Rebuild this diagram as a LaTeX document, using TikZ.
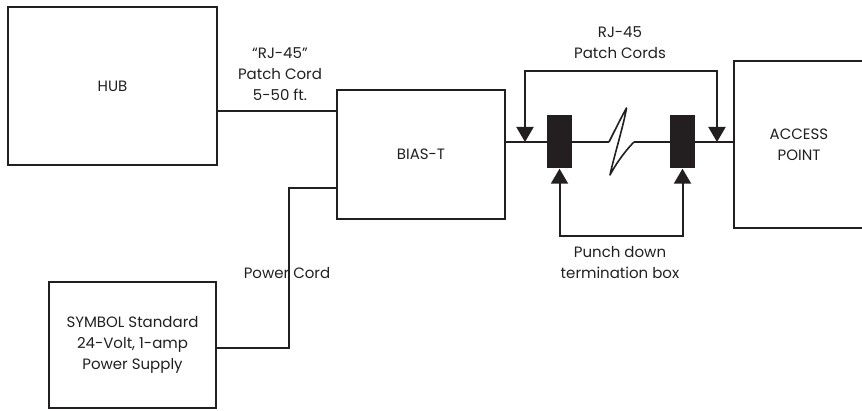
\documentclass[tikz,border=0pt]{standalone}
\usepackage{fontspec}
\setmainfont{Poppins}
\usepackage{tikz}
\usepackage{xcolor}
\usetikzlibrary{positioning,arrows.meta}
\definecolor{ink}{HTML}{231F20}

\begin{document}
\begin{tikzpicture}[x=1pt,y=-1pt,every node/.style={font=\fontsize{15}{21}\selectfont,text=ink,align=center}]
   \tikzstyle{box}=[draw=ink,line width=2pt,inner sep=0pt];
   \tikzstyle{blk}=[fill=ink,inner sep=0pt,minimum width=25pt,minimum height=53pt];
   \tikzstyle{w}=[draw=ink,line width=2pt];
   \tikzstyle{c}=[draw=ink,line width=2.6pt];
   \tikzstyle{l}=[draw=ink,line width=2pt,{Triangle[length=15pt,width=17pt]}-{Triangle[length=15pt,width=17pt]}];
   \useasboundingbox (0,0) rectangle (862,411);
   \node[box,minimum width=209pt,minimum height=158pt] (hub)    at (112.5,86)  {HUB};
   \node[box,minimum width=168pt,minimum height=129pt] (biast)  at (421,154.5) {BIAS-T};
   \node[box,minimum width=130pt,minimum height=167pt] (ap)     at (799,144.5) {ACCESS\\POINT};
   \node[box,minimum width=167pt,minimum height=126pt] (supply) at (132.5,345) {SYMBOL Standard\\24-Volt, 1-amp\\Power Supply};
   \node[blk] (blk1) at (559.5,142) {};
   \node[blk] (blk2) at (682.5,142) {};
   \coordinate (hc)   at (0,111);
   \coordinate (cy)   at (0,142);
   \coordinate (brk1) at (609,142);
   \coordinate (brk2) at (634,142);
   \coordinate (t1)   at (525,71);
   \coordinate (t2)   at (717,71);
   \coordinate (bb)   at (0,236);
   \coordinate (pc1)  at (289,348);
   \coordinate (pc2)  at (289,188);
   \draw[w] (hub.east |- hc) -- (biast.west |- hc);
   \draw[c] (biast.east |- cy) -- (blk1.west);
   \draw[c] (blk1.east) -- (brk1);
   \draw[w,line width=1.6pt,line join=round] (brk1) .. controls (616,128) and (622,116) .. (626.5,108)
        .. controls (624,124) and (613,160) .. (610,175) .. controls (618,160) and (628,148) .. (brk2);
   \draw[c] (brk2) -- (blk2.west);
   \draw[c] (blk2.east) -- (ap.west |- cy);
   \draw[l] (t1 |- cy) -- (t1) -- (t2) -- (t2 |- cy);
   \draw[l] (blk1.south) -- (blk1.south |- bb) -- (blk2.south |- bb) -- (blk2.south);
   \draw[w] (supply.east |- pc1) -- (pc1) -- (pc2) -- (biast.west |- pc2);
   \node (rjl) at (280,74)  {“RJ-45”\\Patch Cord\\5-50 ft.};
   \node (rjr) at (620,43)  {RJ-45\\Patch Cords};
   \node (pd)  at (620,263) {Punch down\\termination box};
   \node (pcl) at (287,273) {Power Cord};
\end{tikzpicture}
\end{document}
